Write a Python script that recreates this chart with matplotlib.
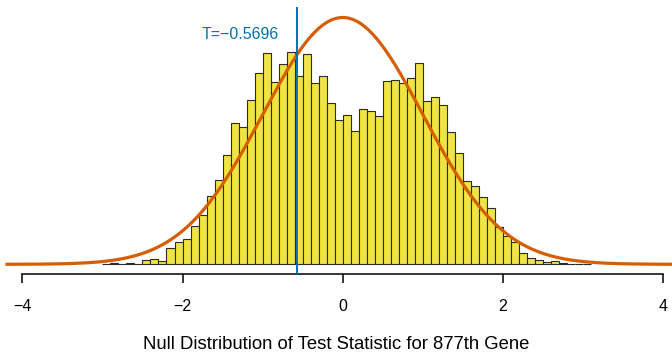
import numpy as np
import matplotlib
matplotlib.use("Agg")
import matplotlib.pyplot as plt

# Permutation null distribution of the test statistic (density scale, bin width 0.1)
bin_left = np.round(np.arange(-3.0, 3.1, 0.1), 1)
density = [
    0.0000, 0.0016, 0.0000, 0.0016, 0.0000,           # -3.0 .. -2.6
    0.0074, 0.0079, 0.0058, 0.0259, 0.0360,           # -2.5 .. -2.1
    0.0404, 0.0619, 0.0792, 0.1109, 0.1363,           # -2.0 .. -1.6
    0.1762, 0.2284, 0.2219, 0.2651, 0.3087,           # -1.5 .. -1.1
    0.3410, 0.2951, 0.3233, 0.3431, 0.3039,           # -1.0 .. -0.6
    0.3394, 0.2930, 0.3039, 0.2602, 0.2332,           # -0.5 .. -0.1
    0.2413, 0.2159, 0.2510, 0.2483, 0.2397,           #  0.0 ..  0.4
    0.2968, 0.2979, 0.2935, 0.3006, 0.3254,           #  0.5 ..  0.9
    0.2644, 0.2699, 0.2570, 0.2134, 0.1804,           #  1.0 ..  1.4
    0.1351, 0.1261, 0.1083, 0.0905, 0.0608,           #  1.5 ..  1.9
    0.0462, 0.0356, 0.0187, 0.0097, 0.0070,           #  2.0 ..  2.4
    0.0032, 0.0048, 0.0016, 0.0000, 0.0000,           #  2.5 ..  2.9
    0.0000,                                           #  3.0
]
bin_width = 0.1
t_observed = -0.5696
x_ticks = [-4, -2, 0, 2, 4]
x_label = "Null Distribution of Test Statistic for 877th Gene"

YELLOW = "#F0E442"
ORANGE = "#D55E00"
BLUE = "#0072B2"

plt.rcParams["font.family"] = ["Liberation Sans", "DejaVu Sans"]

fig = plt.figure(figsize=(6.72, 3.53), dpi=100)
ax = fig.add_axes([0.0, 0.2238, 1.0, 0.981 - 0.2238])

# histogram bars
ax.bar(bin_left, density, width=bin_width, align="edge",
       color=YELLOW, edgecolor="#2b2b2b", linewidth=0.8, zorder=2)

# theoretical N(0,1) density
xs = np.linspace(-4.21, 4.6, 600)
ax.plot(xs, np.exp(-xs ** 2 / 2) / np.sqrt(2 * np.pi),
        color=ORANGE, linewidth=2.3, zorder=3, solid_capstyle="butt")

# observed statistic
ax.axvline(t_observed, color=BLUE, linewidth=1.4, zorder=4)
ax.annotate(f"T={t_observed:.4f}".replace("-", "\u2212"),
            xy=(t_observed, 0.3717), xytext=(-13, 0),
            textcoords="offset points", ha="right", va="center",
            color=BLUE, fontsize=11.5)

ax.set_xlim(-4.278, 4.109)
ax.set_ylim(-0.01568, 0.4164)

for side in ("top", "right", "left"):
    ax.spines[side].set_visible(False)
ax.spines["bottom"].set_bounds(-4, 4)
ax.spines["bottom"].set_linewidth(1.1)
ax.set_yticks([])
ax.set_xticks(x_ticks)
ax.set_xticklabels([str(v).replace("-", "\u2212") for v in x_ticks])
ax.tick_params(axis="x", length=6.8, width=1.1, pad=11, labelsize=11.5)
ax.set_xlabel(x_label, fontsize=13.3, labelpad=16)
ax.patch.set_alpha(0)

fig.savefig("out.png", dpi=100)
